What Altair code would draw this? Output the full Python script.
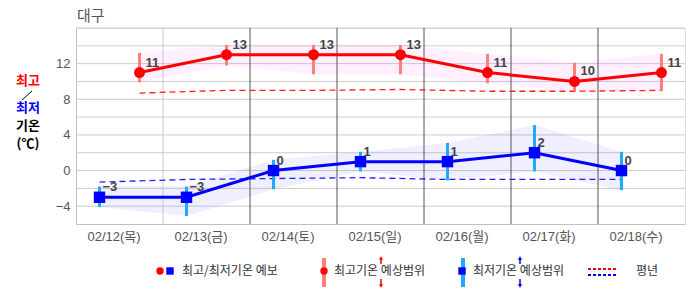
import altair as alt
import pandas as pd

# ---- data ----
days = ["02/12(목)", "02/13(금)", "02/14(토)", "02/15(일)", "02/16(월)", "02/17(화)", "02/18(수)"]
tmax = [11, 13, 13, 13, 11, 10, 11]
tmax_hi = [13.2, 14.1, 14.1, 14.1, 13.1, 12.1, 13.1]
tmax_lo = [9.9, 11.8, 10.8, 10.8, 9.8, 8.9, 8.9]
tmin = [-3, -3, 0, 1, 1, 2, 0]
tmin_hi = [-1.8, -1.8, 1.2, 2.1, 3.1, 5.1, 2.1]
tmin_lo = [-4.1, -5.1, -2.1, -0.1, -1.1, -0.1, -2.2]
norm_max = [8.7, 9.0, 9.0, 9.1, 8.9, 8.9, 9.0]
norm_min = [-1.3, -1.0, -0.9, -0.8, -1.0, -1.0, -1.0]
y_labels = [-4, 0, 4, 8, 12]
y_grid = list(range(-4, 17, 2))
separators = [1, 2, 3, 4, 5, 6]
sep_colors = ["#c8c8c8", "#555555", "#555555", "#555555", "#555555", "#555555"]

W, H = 609, 196
FONT = "Liberation Sans, Noto Sans CJK KR, sans-serif"
KFONT = "Noto Sans CJK KR, sans-serif"

df = pd.DataFrame({
    "x": [i + 0.5 for i in range(len(days))],
    "day": days,
    "tmax": tmax, "tmax_hi": tmax_hi, "tmax_lo": tmax_lo,
    "tmin": tmin, "tmin_hi": tmin_hi, "tmin_lo": tmin_lo,
    "nmax": norm_max, "nmin": norm_min,
})
sep_df = pd.DataFrame({"b": separators, "c": sep_colors})
grid_df = pd.DataFrame({"g": y_grid})
one = pd.DataFrame({"a": [0]})

label_expr = "[" + ",".join("'" + d + "'" for d in days) + "][floor(datum.value)]"

xs = alt.Scale(domain=[0, 7], nice=False, zero=False)
ys = alt.Scale(domain=[-6, 16], nice=False, zero=False)

X = alt.X("x:Q", scale=xs, title=None,
          axis=alt.Axis(values=[i + 0.5 for i in range(7)], labelExpr=label_expr,
                        grid=False, ticks=False, domainColor="#c0c0c0",
                        labelFontSize=13, labelColor="#555555", labelFont=FONT,
                        labelPadding=6, labelOffset=-6))
Y = alt.Y("g:Q", scale=ys, title=None,
          axis=alt.Axis(values=y_labels, grid=False, ticks=False, domainColor="#c0c0c0",
                        labelFontSize=13, labelColor="#555555", labelFont=FONT,
                        labelPadding=6, labelOverlap=False))

# horizontal gridlines (carry the y axis)
grid = alt.Chart(grid_df).mark_rule(color="#cccccc", strokeWidth=1).encode(y=Y)

base = alt.Chart(df)

band_max = base.mark_area(color="#ff66ff", opacity=0.1, xOffset=20).encode(
    x=X, y=alt.Y("tmax_hi:Q", scale=ys), y2="tmax_lo:Q")
band_min = base.mark_area(color="#6666ff", opacity=0.1, xOffset=-20).encode(
    x="x:Q", y="tmin_hi:Q", y2="tmin_lo:Q")

seps = alt.Chart(sep_df).mark_rule(strokeWidth=1).encode(
    x=alt.X("b:Q", scale=xs), color=alt.Color("c:N", scale=None))

nmax_line = base.mark_line(color="#ff2020", strokeWidth=1.3, strokeDash=[6, 4], xOffset=20).encode(
    x="x:Q", y="nmax:Q")
nmin_line = base.mark_line(color="#2020ff", strokeWidth=1.3, strokeDash=[6, 4], xOffset=-20).encode(
    x="x:Q", y="nmin:Q")

err_max = base.mark_rule(color="#ff7f7f", strokeWidth=3, xOffset=20).encode(
    x="x:Q", y="tmax_hi:Q", y2="tmax_lo:Q")
err_min = base.mark_rule(color="#1eaaff", strokeWidth=3, xOffset=-20).encode(
    x="x:Q", y="tmin_hi:Q", y2="tmin_lo:Q")

line_max = base.mark_line(color="#ff0000", strokeWidth=3, xOffset=20).encode(x="x:Q", y="tmax:Q")
line_min = base.mark_line(color="#0000ff", strokeWidth=3, xOffset=-20).encode(x="x:Q", y="tmin:Q")

pts_max = base.mark_point(shape="circle", filled=True, color="#ff0000", size=120, opacity=1,
                          xOffset=20).encode(x="x:Q", y="tmax:Q")
pts_min = base.mark_point(shape="square", filled=True, color="#0000ff", size=130, opacity=1,
                          xOffset=-20).encode(x="x:Q", y="tmin:Q")

lab_max = base.mark_text(align="left", baseline="middle", dx=6, dy=-10, fontSize=13,
                         fontWeight="bold", color="#444444", font=FONT, xOffset=20).encode(
    x="x:Q", y="tmax:Q", text="tmax:Q")
lab_min = base.mark_text(align="left", baseline="middle", dx=3, dy=-10, fontSize=13,
                         fontWeight="bold", color="#444444", font=FONT, xOffset=-20).encode(
    x="x:Q", y="tmin:Q", text="tmin:Q")

# ---- decorations (title, y title, legend) ----
def txt(s, x, y, color="#333333", size=12, weight="normal", align="left", font=KFONT):
    return alt.Chart(one).mark_text(align=align, baseline="middle", fontSize=size,
                                    fontWeight=weight, color=color, font=font).encode(
        x=alt.value(x), y=alt.value(y), text=alt.value(s))

def rule(x, y, x2, y2, color, width, dash=None):
    kw = dict(color=color, strokeWidth=width)
    if dash:
        kw["strokeDash"] = dash
    return alt.Chart(one).mark_rule(**kw).encode(
        x=alt.value(x), y=alt.value(y), x2=alt.value(x2), y2=alt.value(y2))

def sym(x, y, shape, color, size):
    return alt.Chart(one).mark_point(shape=shape, filled=True, color=color, size=size,
                                     opacity=1).encode(x=alt.value(x), y=alt.value(y))

deco = [
    txt("대구", 1, -12, color="#555555", size=15),
    txt("최고", -48, 53, color="#ff0000", size=13, weight="bold", align="center"),
    rule(-54, 72, -44, 63, "#000000", 1),
    txt("최저", -48, 80, color="#0000ff", size=13, weight="bold", align="center"),
    txt("기온", -48, 98, color="#000000", size=13, weight="bold", align="center"),
    txt("(℃)", -48, 116, color="#000000", size=13, weight="bold", align="center"),
    # legend item 1
    sym(84, 243, "circle", "#ff0000", 55),
    sym(94, 243, "square", "#0000ff", 55),
    txt("최고/최저기온 예보", 106, 243),
    # legend item 2
    rule(248, 230, 248, 259, "#ff7f7f", 4),
    sym(248, 243, "circle", "#ff0000", 55),
    txt("최고기온 예상범위", 258, 243),
    rule(305, 231, 305, 236, "#ff0000", 1.5),
    sym(305, 230, "triangle-up", "#ff0000", 18),
    rule(305, 251, 305, 257, "#ff0000", 1.5),
    sym(305, 258, "triangle-down", "#ff0000", 18),
    # legend item 3
    rule(387, 230, 387, 259, "#1eaaff", 4),
    sym(386, 243, "square", "#0000ff", 55),
    txt("최저기온 예상범위", 397, 243),
    rule(444, 231, 444, 236, "#0000ff", 1.5),
    sym(444, 230, "triangle-up", "#0000ff", 18),
    rule(444, 251, 444, 257, "#0000ff", 1.5),
    sym(444, 258, "triangle-down", "#0000ff", 18),
    # legend item 4
    rule(512, 241, 540, 241, "#ff0000", 2, [3, 2]),
    rule(512, 247, 540, 247, "#0000ff", 2, [3, 2]),
    txt("평년", 560, 243),
]

chart = alt.layer(
    grid, band_max, band_min, seps, nmax_line, nmin_line, err_max, err_min,
    line_max, line_min, pts_max, pts_min, lab_max, lab_min, *deco
).properties(
    width=W, height=H,
    autosize=alt.AutoSizeParams(type="none"),
    padding={"left": 76, "top": 28, "right": 1, "bottom": 71},
).configure_view(stroke="#c8c8c8").configure(background="white")

chart.save("out.html", embed_options={"renderer": "svg", "actions": False})
